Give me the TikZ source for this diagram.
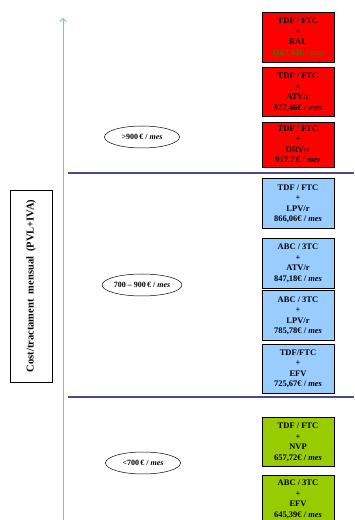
\documentclass[tikz,border=0pt]{standalone}
\usepackage{fontspec}
\setmainfont{Liberation Serif}
\usepackage{xcolor}
\usetikzlibrary{positioning, arrows.meta, shapes.geometric}

\definecolor{costred}{HTML}{FF0000}
\definecolor{costblue}{HTML}{99CCFF}
\definecolor{costgreen}{HTML}{99CC00}
\definecolor{axisteal}{HTML}{66CCC0}
\definecolor{seppurple}{HTML}{4D4A8C}
\definecolor{pricegreen}{HTML}{3A7A00}

\newcommand{\mes}{\textit{mes}}

\begin{document}
\begin{tikzpicture}[
        x=1pt, y=1pt,
        every node/.style={font=\fontsize{8.5}{10.5}\selectfont\bfseries},
        box/.style={draw, rectangle, line width=0.5pt, minimum width=72pt, minimum height=49pt, inner sep=1pt, align=center},
        redbox/.style={box, fill=costred},
        bluebox/.style={box, fill=costblue},
        greenbox/.style={box, fill=costgreen},
        pricerange/.style={draw, ellipse, line width=0.5pt, minimum width=75pt, minimum height=22pt, inner sep=0pt,
                           font=\fontsize{8}{10}\selectfont\bfseries},
        sep/.style={draw=seppurple, line width=1.2pt}
    ]
    \useasboundingbox (0,0) rectangle (354,520);

    % axis and separators
    \coordinate (axisbottom) at (63,0);
    \coordinate (axistop) at (63,502);
    \draw[axisteal, line width=0.8pt, -{Straight Barb[length=3pt, width=6pt]}] (axisbottom) -- (axistop);

    \coordinate (sephigh) at (68,347);
    \coordinate (sephighend) at (354,347);
    \coordinate (seplow) at (68,123);
    \coordinate (seplowend) at (354,123);
    \draw[sep] (sephigh) -- (sephighend);
    \draw[sep] (seplow) -- (seplowend);

    \node[draw, rectangle, line width=0.5pt, rotate=90, minimum width=192pt, minimum height=42pt,
          font=\fontsize{10.5}{12}\selectfont\bfseries] (axislabel) at (31,234) {Cost/tractament\ \ mensual\ \ (PVL+IVA)};

    % price ranges
    \node[pricerange] (over) at (142,383) {>900\,€ / \mes};
    \node[pricerange] (middle) at (142,235) {700 -- 900\,€ / \mes};
    \node[pricerange] (under) at (143,57) {<700\,€ / \mes};

    % treatments
    \node[redbox, minimum height=50pt, anchor=north] (ral) at (298,508) {TDF / FTC \\ + \\ RAL \\ \textcolor{pricegreen}{1167,04€ / \mes}};
    \node[redbox, below=5pt of ral] (atvfirst) {TDF / FTC \\ + \\ ATV/r \\ 927,46€ / \mes};
    \node[redbox, minimum height=45pt, below=5pt of atvfirst] (drv) {TDF / FTC \\ + \\ DRV/r \\ 917,7\,€ / \mes};

    \node[bluebox, minimum height=50pt, below=11pt of drv] (lpvfirst) {TDF / FTC \\ + \\ LPV/r \\ 866,06€ / \mes};
    \node[bluebox, minimum height=50pt, below=9pt of lpvfirst] (atvsecond) {ABC / 3TC \\ + \\ ATV/r \\ 847,18€ / \mes};
    \node[bluebox, minimum height=50pt, below=2pt of atvsecond] (lpvsecond) {ABC / 3TC \\ + \\ LPV/r \\ 785,78€ / \mes};
    \node[bluebox, below=3pt of lpvsecond] (efvfirst) {TDF/FTC \\ + \\ EFV \\ 725,67€ / \mes};

    \node[greenbox, below=24pt of efvfirst] (nvp) {TDF / FTC \\ + \\ NVP \\ 657,72€ / \mes};
    \node[greenbox, minimum height=48pt, below=8pt of nvp] (efvsecond) {ABC / 3TC \\ + \\ EFV \\ 645,39€ / \mes};

    \end{tikzpicture}
\end{document}
